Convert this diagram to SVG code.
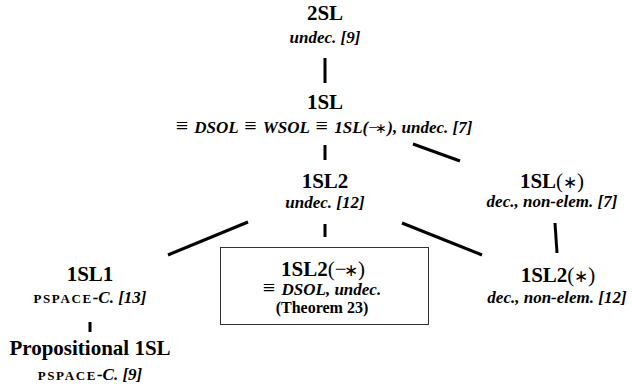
<svg xmlns="http://www.w3.org/2000/svg" width="632" height="389" viewBox="0 0 632 389" font-family="Liberation Serif, Times New Roman, serif">
<style>
text{font-family:'Liberation Serif','Times New Roman',serif;fill:#000;text-anchor:middle}
.t{font-size:21px;font-weight:bold}
.s{font-size:17px;font-weight:bold;font-style:italic}
.r{font-weight:normal;font-style:normal}
.q{font-weight:normal;font-style:normal;font-size:22px}
.st{font-size:0.8em}
.w{letter-spacing:-2.5px}
.sc{font-size:13px;font-style:normal;letter-spacing:1.6px}
.th{font-size:16px;font-weight:bold}
.e{stroke:#000;stroke-width:3;fill:none}
</style>
<rect width="632" height="389" fill="#fff"/>
<g id="connectors">
<line class="e" x1="325" y1="58" x2="325" y2="83"/>
<line class="e" x1="325" y1="145" x2="325" y2="160"/>
<line class="e" x1="413" y1="144" x2="460" y2="161"/>
<line class="e" x1="168" y1="255" x2="248" y2="222"/>
<line class="e" x1="325" y1="224" x2="325" y2="237"/>
<line class="e" x1="402" y1="223" x2="482" y2="255"/>
<line class="e" x1="555" y1="223" x2="557" y2="253"/>
<line class="e" x1="90" y1="322" x2="90" y2="332"/>
</g>
<g id="n2SL">
<text class="t" x="325" y="20">2SL</text>
<text class="s" x="325" y="43">undec. [9]</text>
</g>
<g id="n1SL">
<text class="t" x="325" y="109">1SL</text>
<text class="s" x="324" y="133"><tspan class="q">≡</tspan><tspan dx="2"> DSOL </tspan><tspan class="q" dx="2">≡</tspan><tspan dx="2"> WSOL </tspan><tspan class="q" dx="2">≡</tspan><tspan dx="2"> 1SL(</tspan><tspan class="r w">−</tspan><tspan class="r st">∗</tspan>), undec. [7]</text>
</g>
<g id="n1SL2">
<text class="t" x="325" y="188">1SL2</text>
<text class="s" x="325" y="208">undec. [12]</text>
</g>
<g id="n1SLstar">
<text class="t" x="552" y="188">1SL<tspan class="r">(</tspan><tspan class="r st">∗</tspan><tspan class="r">)</tspan></text>
<text class="s" x="552" y="207">dec., non-elem. [7]</text>
</g>
<g id="n1SL1">
<text class="t" x="90" y="281">1SL1</text>
<text class="s" x="90" y="303"><tspan class="sc">PSPACE</tspan>-C. [13]</text>
</g>
<g id="n1SL2wand">
<rect x="220.5" y="247.5" width="208" height="77" fill="none" stroke="#333" stroke-width="1"/>
<text class="t" x="323" y="276">1SL2<tspan class="r">(</tspan><tspan class="r w">−</tspan><tspan class="r st">∗</tspan><tspan class="r">)</tspan></text>
<text class="s" x="322" y="295"><tspan class="q">≡</tspan><tspan dx="2"> DSOL, undec.</tspan></text>
<text class="th" x="322" y="313">(Theorem 23)</text>
</g>
<g id="n1SL2star">
<text class="t" x="558" y="282">1SL2<tspan class="r">(</tspan><tspan class="r st">∗</tspan><tspan class="r">)</tspan></text>
<text class="s" x="557" y="303">dec., non-elem. [12]</text>
</g>
<g id="nProp">
<text class="t" x="90" y="355">Propositional 1SL</text>
<text class="s" x="90" y="380"><tspan class="sc">PSPACE</tspan>-C. [9]</text>
</g>
</svg>
